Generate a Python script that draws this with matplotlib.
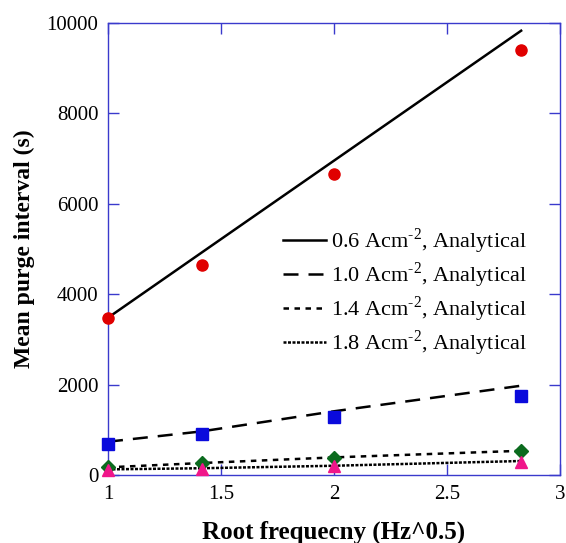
import matplotlib
matplotlib.use('Agg')
import matplotlib.pyplot as plt
import numpy as np

plt.rcParams['font.family'] = ['Liberation Serif', 'DejaVu Serif']
plt.rcParams['mathtext.fontset'] = 'custom'
plt.rcParams['mathtext.rm'] = 'Liberation Serif'

# 横轴：频率平方根
root_freq = [1.0, 1.414, 2.0, 2.828]

# 实验点
purge_06 = [3480, 4640, 6670, 9400]
purge_10 = [690, 905, 1275, 1755]
purge_14 = [185, 258, 383, 530]
purge_18 = [110, 140, 200, 295]

# 解析解曲线
model_06 = [3480, 4920, 6955, 9830]
model_10 = [737, 965, 1410, 1976]
model_14 = [170, 265, 390, 536]
model_18 = [125, 150, 205, 310]

current_labels = ['0.6', '1.0', '1.4', '1.8']

x_ticks = [1, 1.5, 2, 2.5, 3]
y_ticks = [0, 2000, 4000, 6000, 8000, 10000]

spine_color = '#3a3acc'

fig = plt.figure(figsize=(5.66, 5.43), dpi=100)
ax = fig.add_axes([0.1908, 0.1252, 0.7986, 0.8324])

# 解析线
line_styles = ['-', (0, (6, 4)), (0, (2.2, 2.2)), (0, (1.2, 0.6))]
models = [model_06, model_10, model_14, model_18]
for model, ls, cur in zip(models, line_styles, current_labels):
    ax.plot(root_freq, model, color='black', linestyle=ls, linewidth=1.8,
            label=cur + r' Acm$^{\text{-}2}$, Analytical')

# 实验点
ax.plot(root_freq, purge_06, 'o', color='#e00000', markersize=8, clip_on=False, zorder=4)
ax.plot(root_freq, purge_10, 's', color='#0a0adc', markersize=8, clip_on=False, zorder=4)
ax.plot(root_freq, purge_14, 'D', color='#0b6b1e', markersize=7, clip_on=False, zorder=4)
ax.plot(root_freq, purge_18, '^', color='#f0168a', markersize=9, clip_on=False, zorder=4)

ax.set_xlim(1, 3)
ax.set_ylim(0, 10000)
ax.set_xticks(x_ticks)
ax.set_xticklabels(['1', '1.5', '2', '2.5', '3'])
ax.set_yticks(y_ticks)

for sp in ax.spines.values():
    sp.set_color(spine_color)
    sp.set_linewidth(1.0)

ax.tick_params(direction='in', length=8, width=1, color=spine_color,
               top=True, right=True, labelsize=15, pad=7)

ax.set_xlabel('Root frequecny (Hz^0.5)', fontsize=18, fontweight='bold', labelpad=12)
ax.set_ylabel('Mean purge interval (s)', fontsize=17, fontweight='bold', labelpad=8)

ax.legend(loc='upper left', bbox_to_anchor=(283 / 566, 1 - 226 / 543),
          bbox_transform=fig.transFigure, frameon=False, fontsize=16,
          handlelength=1.95, handletextpad=0.2, labelspacing=0.2,
          borderpad=0, borderaxespad=0)

plt.savefig('out.png', dpi=100)
plt.close()
